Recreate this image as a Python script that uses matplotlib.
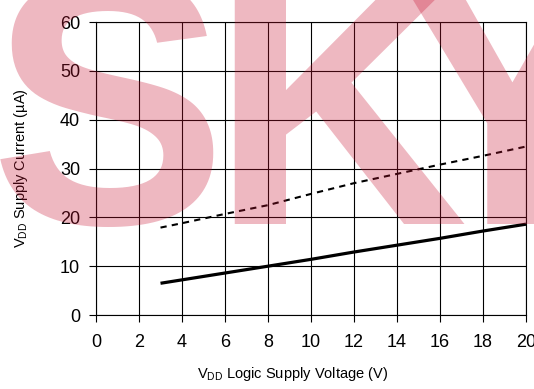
import matplotlib
matplotlib.use("Agg")
from matplotlib import pyplot as plt

plt.rcParams["font.family"] = ["Liberation Sans", "DejaVu Sans"]
plt.rcParams["mathtext.fontset"] = "custom"
plt.rcParams["mathtext.rm"] = "Liberation Sans"

# supply voltage (V) and supply current (uA)
vdd = [3, 4, 6, 8, 10, 12, 14, 16, 18, 20]
idd_solid = [6.5, 7.2, 8.6, 10.0, 11.4, 12.9, 14.3, 15.7, 17.2, 18.6]
idd_dashed = [17.9, 18.8, 20.7, 22.5, 24.8, 27.0, 28.9, 30.8, 32.6, 34.5]

x_ticks = list(range(0, 21, 2))
y_ticks = list(range(0, 61, 10))

fig = plt.figure(figsize=(5.34, 3.89), dpi=100)
ax = fig.add_axes([0.1798, 0.1902, 0.8052, 0.7532])

ax.plot(vdd, idd_solid, color="black", linewidth=2.3, solid_capstyle="butt", zorder=3)
ax.plot(vdd, idd_dashed, color="black", linewidth=1.5, linestyle=(0, (3, 2.5)), zorder=3)

ax.set_xlim(0, 20)
ax.set_ylim(0, 60)
ax.set_xticks(x_ticks)
ax.set_yticks(y_ticks)
ax.grid(True, color="black", linewidth=0.8)
ax.set_axisbelow(True)
for s in ax.spines.values():
    s.set_linewidth(0.8)

ax.tick_params(axis="both", direction="out", length=5, width=0.8, labelsize=13, colors="black")
ax.tick_params(axis="y", pad=6.5)
ax.tick_params(axis="x", pad=9)

ax.set_xlabel(r"V$_{\mathregular{DD}}$ Logic Supply Voltage (V)", fontsize=10.5)
ax.set_ylabel(r"V$_{\mathregular{DD}}$ Supply Current (µA)", fontsize=10.5)
ax.xaxis.set_label_coords(0.458, -0.17)
ax.yaxis.set_label_coords(-0.153, 0.5)

# watermark letters
wm = dict(fontsize=256, fontweight="bold", color=(0.78, 0.08, 0.2), alpha=0.3,
          ha="center", va="baseline", zorder=10,
          family=["Liberation Sans", "DejaVu Sans"])
fig.text(108 / 534, 1 - 224 / 389, "S", **wm)
fig.text(339 / 534, 1 - 224 / 389, "K", **wm)
fig.text(512 / 534, 1 - 224 / 389, "Y", **wm)

fig.savefig("out.png", dpi=100)
